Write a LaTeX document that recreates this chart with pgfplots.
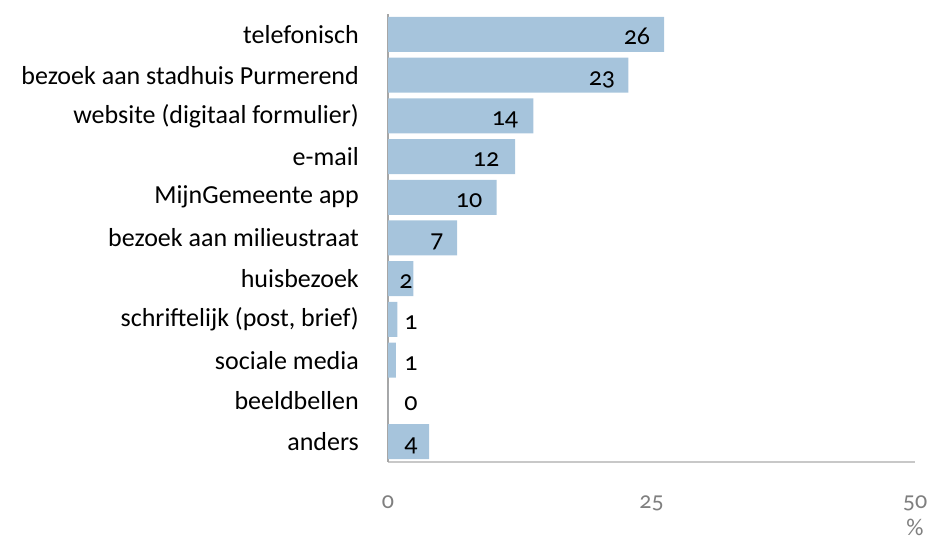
\documentclass[border=0pt]{standalone}
\usepackage{fontspec}
\setmainfont{Carlito}[Numbers=OldStyle]
\usepackage{pgfplots}
\pgfplotsset{compat=1.18}
\definecolor{barblue}{HTML}{A6C4DC}
\definecolor{xaxgray}{HTML}{C8C8C8}
\definecolor{yaxgray}{HTML}{A6A6A6}
\definecolor{tickgray}{HTML}{7F7F7F}
\begin{document}
\begin{tikzpicture}[font=\fontsize{26bp}{30bp}\selectfont]
\path[use as bounding box] (0,0) rectangle (931bp,542bp);
\begin{axis}[
  at={(388bp,80bp)}, anchor=south west,
  scale only axis, width=527bp, height=448bp,
  xmin=0, xmax=50, ymin=-0.5, ymax=10.5,
  axis x line=bottom, axis y line=left,
  x axis line style={-, draw=xaxgray, line width=1.5bp},
  y axis line style={-, draw=yaxgray, line width=1.5bp},
  major tick length=0pt,
  /pgf/number format/assume math mode=true,
  xtick={0,25,50}, xticklabels={0,25,50},
  xticklabel style={text=tickgray, anchor=base, yshift=-46bp, font=\fontsize{24bp}{28bp}\selectfont},
  ytick={0,...,10},
  yticklabels={anders, beeldbellen, sociale media, {schriftelijk (post, brief)}, huisbezoek, {bezoek aan milieustraat\ }, {MijnGemeente app\ }, e-mail, {website (digitaal formulier)\ }, {bezoek aan stadhuis Purmerend\ }, telefonisch},
  yticklabel style={anchor=east, inner sep=0pt, xshift=-29bp, text=black},
  xlabel={\%},
  xlabel style={at={(rel axis cs:1,0)}, anchor=base, yshift=-73bp, text=tickgray, font=\fontsize{24bp}{28bp}\selectfont},
  clip=false,
]
\addplot[xbar, bar width=35bp, bar shift=0pt, fill=barblue, draw=none]
  coordinates {(26.2,10) (22.8,9) (13.8,8) (12.05,7) (10.3,6) (6.55,5) (2.4,4) (0.9,3) (0.75,2) (0,1) (3.9,0)};
\addplot[draw=none, mark=none, nodes near coords, point meta=explicit symbolic,
  every node near coord/.append style={anchor=base, yshift=-10bp, inner sep=0pt, text=black}]
  coordinates {(23.62,10) [26] (20.30,9) [23] (11.10,8) [14] (9.30,7) [12] (7.69,6) [10] (4.65,5) [7] (1.71,4) [2] (2.18,3) [1] (2.18,2) [1] (2.18,1) [0] (2.18,0) [4]};
\end{axis}
\end{tikzpicture}
\end{document}
